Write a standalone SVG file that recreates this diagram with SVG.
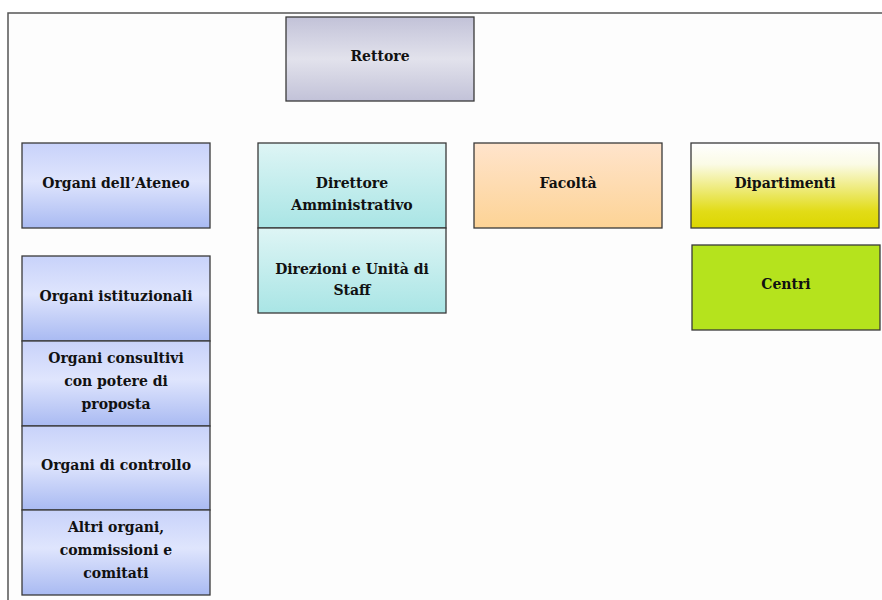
<svg xmlns="http://www.w3.org/2000/svg" width="882" height="600" viewBox="0 0 882 600">
<defs>
<linearGradient id="gGray" x1="0" y1="0" x2="0" y2="1"><stop offset="0" stop-color="#c2c2d8"/><stop offset="0.5" stop-color="#e2e2ec"/><stop offset="1" stop-color="#c2c2d8"/></linearGradient>
<linearGradient id="gBlue" x1="0" y1="0" x2="0" y2="1"><stop offset="0" stop-color="#c8d2fa"/><stop offset="0.45" stop-color="#dfe5fd"/><stop offset="1" stop-color="#a9baf2"/></linearGradient>
<linearGradient id="gCyan" x1="0" y1="0" x2="0" y2="1"><stop offset="0" stop-color="#def5f5"/><stop offset="1" stop-color="#a9e5e5"/></linearGradient>
<linearGradient id="gOrange" x1="0" y1="0" x2="0" y2="1"><stop offset="0" stop-color="#ffe4cc"/><stop offset="1" stop-color="#fdd395"/></linearGradient>
<linearGradient id="gYellow" x1="0" y1="0" x2="0" y2="1"><stop offset="0" stop-color="#ffffff"/><stop offset="0.25" stop-color="#fbfbe6"/><stop offset="0.8" stop-color="#e2dc18"/><stop offset="1" stop-color="#dcd600"/></linearGradient>
</defs>
<style>
.box{stroke:#3a3a3a;stroke-width:1.3}
text{font-family:"DejaVu Serif","Liberation Serif",serif;font-weight:bold;font-size:14px;fill:#111;text-anchor:middle}
</style>
<rect x="0" y="0" width="882" height="600" fill="#ffffff"/>
<rect x="8" y="13" width="880" height="600" fill="#fdfdfd" stroke="#555" stroke-width="1.5"/>
<g id="rettore"><rect class="box" x="286" y="17" width="188" height="84" fill="url(#gGray)"/><text x="380" y="61">Rettore</text></g>
<g id="organi-ateneo"><rect class="box" x="22" y="143" width="188" height="85" fill="url(#gBlue)"/><text x="116" y="188">Organi dell’Ateneo</text></g>
<g id="direttore"><rect class="box" x="258" y="143" width="188" height="85" fill="url(#gCyan)"/><text x="352" y="188">Direttore</text><text x="352" y="210">Amministrativo</text></g>
<g id="direzioni"><rect class="box" x="258" y="228" width="188" height="85" fill="url(#gCyan)"/><text x="352" y="274">Direzioni e Unità di</text><text x="352" y="295">Staff</text></g>
<g id="facolta"><rect class="box" x="474" y="143" width="188" height="85" fill="url(#gOrange)"/><text x="568" y="188">Facoltà</text></g>
<g id="dipartimenti"><rect class="box" x="691" y="143" width="188" height="85" fill="url(#gYellow)"/><text x="785" y="188">Dipartimenti</text></g>
<g id="centri"><rect class="box" x="692" y="245" width="188" height="85" fill="#b5e31d"/><text x="786" y="289">Centri</text></g>
<g id="organi-istituzionali"><rect class="box" x="22" y="256" width="188" height="85" fill="url(#gBlue)"/><text x="116" y="301">Organi istituzionali</text></g>
<g id="organi-consultivi"><rect class="box" x="22" y="341" width="188" height="85" fill="url(#gBlue)"/><text x="116" y="363">Organi consultivi</text><text x="116" y="386">con potere di</text><text x="116" y="409">proposta</text></g>
<g id="organi-controllo"><rect class="box" x="22" y="426" width="188" height="84" fill="url(#gBlue)"/><text x="116" y="470">Organi di controllo</text></g>
<g id="altri-organi"><rect class="box" x="22" y="510" width="188" height="85" fill="url(#gBlue)"/><text x="116" y="532">Altri organi,</text><text x="116" y="555">commissioni e</text><text x="116" y="578">comitati</text></g>
<g id="connectors"></g>
</svg>
